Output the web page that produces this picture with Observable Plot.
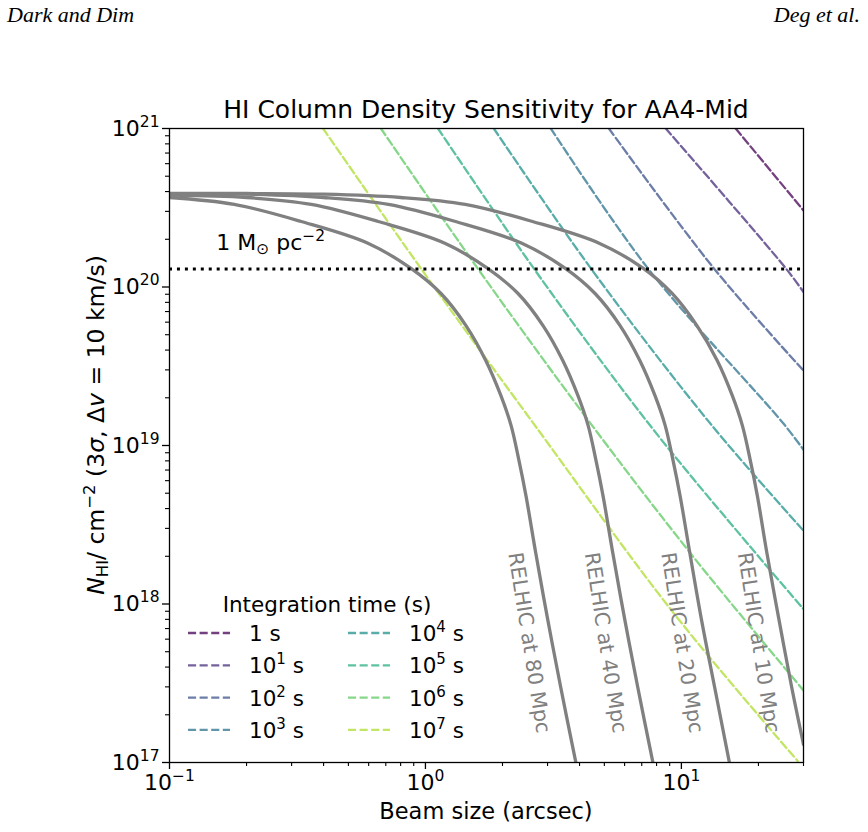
<!DOCTYPE html>
<html><head><meta charset="utf-8">
<script src="https://cdn.jsdelivr.net/npm/d3@7"></script>
<script src="https://cdn.jsdelivr.net/npm/@observablehq/plot@0.6"></script>
<style>
body{margin:0;background:#fff;}
#wrap{position:relative;width:868px;height:832px;overflow:hidden;background:#fff;}
</style></head><body><div id="wrap"></div><script>
// ---------- data ----------
const headerLeft = "Dark and Dim";
const headerRight = "Deg et al.";
const chartTitle = "HI Column Density Sensitivity for AA4-Mid";
const xAxisTitle = "Beam size (arcsec)";
const legendTitle = "Integration time (s)";

const xTickValues = [0.1, 1, 10];
const xTickExponents = ["−1", "0", "1"];
const yTickValues = [1e17, 1e18, 1e19, 1e20, 1e21];
const yTickExponents = ["17", "18", "19", "20", "21"];

// integration times (exponent of 10, seconds)
const timeExponents = [0, 1, 2, 3, 4, 5, 6, 7];
// sensitivity curves: beam (arcsec) and N_HI (cm^-2), one list per integration time
const sensitivityBeam = [
  [16.3, 30.0],
  [8.69, 25.6, 30.0],
  [5.21, 13.4, 30.0],
  [3.09, 7.40, 25.1, 30.0],
  [1.85, 4.43, 13.0, 30.0],
  [1.12, 2.65, 7.46, 18.7, 30.0],
  [0.670, 1.60, 4.43, 11.2, 30.0],
  [0.398, 0.960, 2.65, 9.36, 28.5]
];
const sensitivityN = [
  [1e21, 3.04e20],
  [1e21, 1.31e20, 9.3e19],
  [1e21, 1.31e20, 2.97e19],
  [1e21, 1.31e20, 1.37e19, 9.4e18],
  [1e21, 1.31e20, 1.37e19, 2.9e18],
  [1e21, 1.31e20, 1.37e19, 2.27e18, 9.3e17],
  [1e21, 1.31e20, 1.37e19, 1.96e18, 2.85e17],
  [1e21, 1.31e20, 1.37e19, 8.7e17, 1.02e17]
];

// RELHIC curves
const relhicDistances = [80, 40, 20, 10];
const relhicBeam = [
  [0.100, 0.179, 0.327, 0.596, 0.878, 1.15, 1.44, 1.72, 1.97, 2.16, 2.32, 2.47, 2.70, 3.01, 3.38, 3.87],
  [0.100, 0.200, 0.358, 0.654, 1.19, 1.75, 2.30, 2.88, 3.44, 3.94, 4.32, 4.64, 4.94, 5.40, 6.02, 6.76, 7.74],
  [0.100, 0.200, 0.400, 0.716, 1.31, 2.38, 3.52, 4.60, 5.76, 6.88, 7.88, 8.64, 9.28, 9.88, 10.8, 12.0, 13.5, 15.4],
  [0.100, 0.200, 0.400, 0.800, 1.43, 2.62, 4.77, 7.10, 9.20, 11.5, 13.8, 15.8, 17.3, 18.6, 19.8, 21.6, 24.1, 27.0, 30.0]
];
const relhicN = [
  [3.67e20, 3.32e20, 2.59e20, 1.89e20, 1.31e20, 9.1e19, 5.71e19, 3.44e19, 2.07e19, 1.34e19, 8.03e18, 4.83e18, 2.08e18, 7.85e17, 2.96e17, 1.0e17],
  [3.80e20, 3.67e20, 3.32e20, 2.59e20, 1.89e20, 1.31e20, 9.1e19, 5.71e19, 3.44e19, 2.07e19, 1.34e19, 8.03e18, 4.83e18, 2.08e18, 7.85e17, 2.96e17, 1.0e17],
  [3.88e20, 3.85e20, 3.67e20, 3.32e20, 2.59e20, 1.89e20, 1.31e20, 9.1e19, 5.71e19, 3.44e19, 2.07e19, 1.34e19, 8.03e18, 4.83e18, 2.08e18, 7.85e17, 2.96e17, 1.0e17],
  [3.90e20, 3.89e20, 3.85e20, 3.67e20, 3.32e20, 2.59e20, 1.89e20, 1.31e20, 9.1e19, 5.71e19, 3.44e19, 2.07e19, 1.34e19, 8.03e18, 4.83e18, 2.08e18, 7.85e17, 2.96e17, 1.3e17]
];
// label positions for the RELHIC curves (beam, N)
const relhicLabelBeam = [2.54, 5.05, 10.05, 20.0];
const relhicLabelN = [5.7e17, 5.7e17, 5.7e17, 5.7e17];

// 1 Msun/pc^2 threshold
const thresholdN = 1.3e20;
const thresholdLabelBeam = 0.153;
const thresholdLabelN = 1.7e20;

// ---------- build tables ----------
const timeColors = timeExponents.map((e, i) => d3.interpolateViridis(i / 8));
const sensRows = [];
sensitivityBeam.forEach((arr, i) => arr.forEach((b, j) => sensRows.push({t: i, beam: b, N: sensitivityN[i][j], color: timeColors[i]})));
const relhicRows = [];
relhicBeam.forEach((arr, i) => arr.forEach((b, j) => relhicRows.push({d: relhicDistances[i], beam: b, N: relhicN[i][j]})));
const relhicLabels = relhicDistances.map((d, i) => ({text: `RELHIC at ${d} Mpc`, beam: relhicLabelBeam[i], N: relhicLabelN[i]}));

const xMinor = [];
for (const dec of [0.1, 1, 10]) for (let k = 2; k <= 9; k++) { const v = +(dec * k).toPrecision(3); if (v <= 30) xMinor.push(v); }
const yMinor = [];
for (const dec of [1e17, 1e18, 1e19, 1e20]) for (let k = 2; k <= 9; k++) yMinor.push(dec * k);

const font = "DejaVu Sans, sans-serif";
const dashStyle = "8.1,3.5";
const chart = Plot.plot({
  width: 868, height: 832,
  marginLeft: 169, marginRight: 65, marginTop: 128, marginBottom: 70,
  x: {type: "log", domain: [0.1, 30]},
  y: {type: "log", domain: [1e17, 1e21]},
  color: {type: "identity"},
  style: {fontFamily: font, fontSize: "22px", color: "black", background: "white", overflow: "visible"},
  marks: [
    Plot.line(sensRows, {x: "beam", y: "N", z: "t", stroke: "color", strokeOpacity: 0.75, strokeWidth: 2.3, strokeDasharray: dashStyle, curve: "catmull-rom", clip: true}),
    Plot.line(relhicRows, {x: "beam", y: "N", z: "d", stroke: "#808080", strokeWidth: 3.3, curve: "catmull-rom", clip: true}),
    Plot.ruleY([thresholdN], {stroke: "black", strokeWidth: 3, strokeDasharray: "3,4.95"}),
    Plot.text(relhicLabels, {x: "beam", y: "N", text: "text", rotate: 81, fontSize: 20.5, fill: "#808080"}),
    Plot.axisX({ticks: xMinor, tickSize: 4, tickFormat: () => "", label: null, strokeWidth: 1.1}),
    Plot.axisX({ticks: xTickValues, tickSize: 7, tickPadding: 5, tickFormat: d => "10^" + xTickExponents[xTickValues.indexOf(d)], label: null, strokeWidth: 1.3, fontSize: 22}),
    Plot.axisY({ticks: yMinor, tickSize: 4, tickFormat: () => "", label: null, strokeWidth: 1.1}),
    Plot.axisY({ticks: yTickValues, tickSize: 7, tickPadding: 3, tickFormat: d => "10^" + yTickExponents[yTickValues.indexOf(d)], label: null, strokeWidth: 1.3, fontSize: 22}),
    Plot.frame({stroke: "black", strokeWidth: 1.3})
  ]
});
document.getElementById("wrap").appendChild(chart);

const svg = d3.select(chart);
// tick labels as 10 with superscripts
svg.selectAll('g[aria-label="x-axis tick label"] text, g[aria-label="y-axis tick label"] text').each(function() {
  const s = this.textContent;
  if (!s.includes("^")) return;
  const [base, exp] = s.split("^");
  const t = d3.select(this); t.text(null);
  t.append("tspan").text(base);
  t.append("tspan").attr("font-size", 15.5).attr("dy", -9).text(exp);
});

// ---------- extra texts: headers, title, axis titles, legend ----------
svg.append("text").attr("x", 7).attr("y", 22).attr("text-anchor", "start").attr("font-family", "Liberation Serif, serif").attr("font-style", "italic").attr("font-size", 22).text(headerLeft);
svg.append("text").attr("x", 860).attr("y", 22).attr("text-anchor", "end").attr("font-family", "Liberation Serif, serif").attr("font-style", "italic").attr("font-size", 22).text(headerRight);
svg.append("text").attr("x", 486).attr("y", 118).attr("text-anchor", "middle").attr("font-family", font).attr("font-size", 25).text(chartTitle);
svg.append("text").attr("x", 486).attr("y", 819).attr("text-anchor", "middle").attr("font-family", font).attr("font-size", 22.5).text(xAxisTitle);

// y axis title with sub/superscripts
const yl = svg.append("text").attr("transform", "translate(104,425) rotate(-90)").attr("text-anchor", "middle").attr("font-family", font).attr("font-size", 23.5);
yl.append("tspan").attr("font-style", "italic").text("N");
yl.append("tspan").attr("font-size", 16.5).attr("dy", 4).text("HI");
yl.append("tspan").attr("dy", -4).text("/ cm");
yl.append("tspan").attr("font-size", 16.5).attr("dy", -9.5).text("−2");
yl.append("tspan").attr("dy", 9.5).text(" (3");
yl.append("tspan").attr("font-style", "italic").text("σ");
yl.append("tspan").text(", Δ");
yl.append("tspan").attr("font-style", "italic").text("v");
yl.append("tspan").text(" = 10 km/s)");

// threshold label
const xs = chart.scale("x"), ys = chart.scale("y");
const tl = svg.append("text").attr("x", xs.apply(thresholdLabelBeam)).attr("y", ys.apply(thresholdLabelN)).attr("text-anchor", "start").attr("font-family", font).attr("font-size", 22);
tl.append("tspan").text("1 M");
tl.append("tspan").attr("font-size", 15.5).attr("dy", 4).text("⊙");
tl.append("tspan").attr("dy", -4).text(" pc");
tl.append("tspan").attr("font-size", 15.5).attr("dy", -9).text("−2");

// legend
const lg = svg.append("g").attr("font-family", font).attr("font-size", 21.5).attr("text-anchor", "start");
lg.append("text").attr("x", 327).attr("y", 612).attr("text-anchor", "middle").text(legendTitle);
timeExponents.forEach((e, i) => {
  const col = Math.floor(i / 4), row = i % 4;
  const x0 = 188 + col * 160, y0 = 633 + row * 32.3;
  lg.append("line").attr("x1", x0).attr("x2", x0 + 42).attr("y1", y0).attr("y2", y0)
    .attr("stroke", timeColors[i]).attr("stroke-opacity", 0.75).attr("stroke-width", 2.3).attr("stroke-dasharray", dashStyle);
  const t = lg.append("text").attr("x", x0 + 61).attr("y", y0 + 8);
  if (e === 0) t.text("1 s");
  else { t.append("tspan").text("10"); t.append("tspan").attr("font-size", 15).attr("dy", -9).text(String(e)); t.append("tspan").attr("dy", 9).text(" s"); }
});
</script></body></html>
